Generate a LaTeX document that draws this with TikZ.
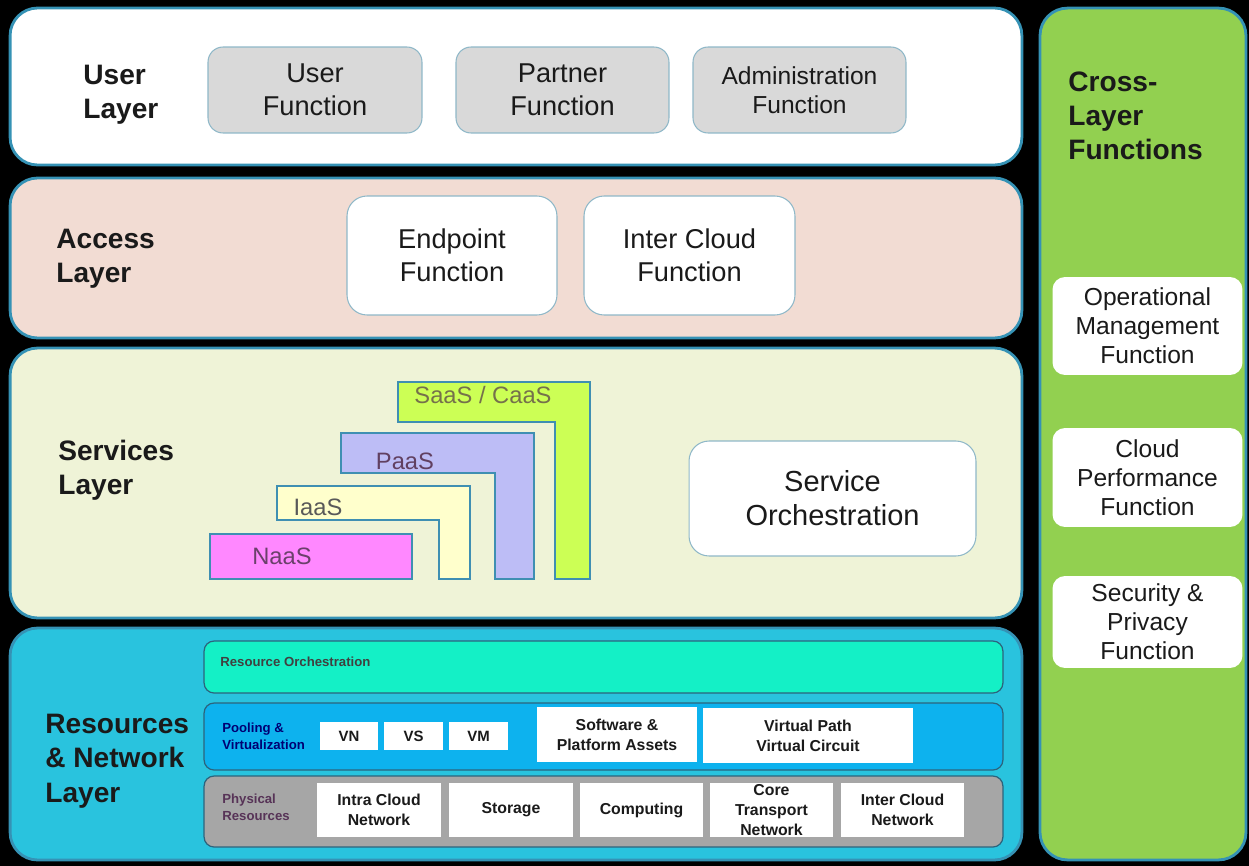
\documentclass[tikz,border=0pt]{standalone}
\usepackage{fontspec}
\setmainfont{Liberation Sans}
\usepackage{tikz}
\usetikzlibrary{calc}

\definecolor{ink}{HTML}{1A1A1A}
\definecolor{edge}{HTML}{3592B5}
\definecolor{fnedge}{HTML}{8FB8C8}
\definecolor{accessfill}{HTML}{F2DCD3}
\definecolor{servicefill}{HTML}{EFF3D7}
\definecolor{resfill}{HTML}{29C3DE}
\definecolor{crossfill}{HTML}{92D050}
\definecolor{fngrey}{HTML}{D9D9D9}
\definecolor{orchfill}{HTML}{14F0C6}
\definecolor{poolfill}{HTML}{0DB2EE}
\definecolor{physfill}{HTML}{A6A6A6}
\definecolor{saasfill}{HTML}{CCFF55}
\definecolor{paasfill}{HTML}{BDBDF6}
\definecolor{iaasfill}{HTML}{FFFFCC}
\definecolor{naasfill}{HTML}{FF88FF}
\definecolor{svcedge}{HTML}{3F8FB2}

\begin{document}
\begin{tikzpicture}[x=0.02cm, y=-0.02cm,
    layer/.style={draw=edge, line width=1.6pt, rounded corners=0.55cm, inner sep=0pt},
    lbl/.style={font=\fontsize{16}{19.5}\selectfont\bfseries, text=ink, align=left, anchor=west, inner sep=0pt},
    fnbox/.style={draw=fnedge, line width=0.6pt, rounded corners=0.3cm, align=center, text=ink, inner sep=0pt},
    xfn/.style={fill=white, rounded corners=0.25cm, align=center, text=ink, inner sep=0pt, minimum width=3.8cm,
        font=\fontsize{14}{16.5}\selectfont},
    bar/.style={draw=svcedge!70!black, line width=0.7pt, rounded corners=0.2cm, inner sep=0pt, minimum width=15.98cm},
    res/.style={fill=white, align=center, text=ink, inner sep=0pt, font=\fontsize{9}{11.3}\selectfont\bfseries},
    tiny/.style={font=\fontsize{7.5}{9.5}\selectfont\bfseries, align=left, anchor=west, inner sep=0pt},
    svc/.style={draw=svcedge, line width=1pt},
    svclbl/.style={font=\fontsize{13.5}{16}\selectfont, inner sep=0pt}]

% Background
\fill[black] (0,0) rectangle (1249,866);
\useasboundingbox (0,0) rectangle (1249,866);

% Layers
\node[layer, fill=white, minimum width=20.24cm, minimum height=3.14cm] (user) at (516,86.5) {};
\node[layer, fill=accessfill, minimum width=20.24cm, minimum height=3.2cm] (access) at (516,258) {};
\node[layer, fill=servicefill, minimum width=20.24cm, minimum height=5.4cm] (services) at (516,483) {};
\node[layer, fill=resfill, minimum width=20.24cm, minimum height=4.64cm] (resources) at (516,744) {};
\node[layer, fill=crossfill, minimum width=4.12cm, minimum height=17.04cm] (cross) at (1143,434) {};

% User layer
\node[lbl] (userlbl) at (83,95) {User\\Layer};
\node[fnbox, fill=fngrey, minimum width=4.28cm, minimum height=1.72cm, font=\fontsize{15.5}{19}\selectfont] (userfn) at (315,90) {User\\Function};
\node[fnbox, fill=fngrey, minimum width=4.26cm, minimum height=1.72cm, font=\fontsize{15.5}{19}\selectfont] (partnerfn) at (562.5,90) {Partner\\Function};
\node[fnbox, fill=fngrey, minimum width=4.26cm, minimum height=1.72cm, font=\fontsize{14}{16.5}\selectfont] (adminfn) at (799.5,90) {Administration\\Function};

% Access layer
\node[lbl] (accesslbl) at (56,259) {Access\\Layer};
\node[fnbox, fill=white, rounded corners=0.4cm, minimum width=4.2cm, minimum height=2.38cm, font=\fontsize{15.5}{19}\selectfont] (endpointfn) at (452,255.5) {Endpoint\\Function};
\node[fnbox, fill=white, rounded corners=0.4cm, minimum width=4.22cm, minimum height=2.38cm, font=\fontsize{15.5}{19}\selectfont] (intercloudfn) at (689.5,255.5) {Inter Cloud\\Function};

% Services layer
\node[lbl] (serviceslbl) at (58,470) {Services\\Layer};
\draw[svc, fill=saasfill] (398,382) -- (590,382) -- (590,579) -- (555,579) -- (555,422) -- (398,422) -- cycle;
\draw[svc, fill=paasfill] (341,433) -- (534,433) -- (534,579) -- (495,579) -- (495,473) -- (341,473) -- cycle;
\draw[svc, fill=iaasfill] (277,486) -- (470,486) -- (470,579) -- (439,579) -- (439,520) -- (277,520) -- cycle;
\node[svc, fill=naasfill, minimum width=4.04cm, minimum height=0.9cm, inner sep=0pt] (naas) at (311,556.5) {};
\node[svclbl, text=olive!45!black!80] (saas) at (483,395) {SaaS / CaaS};
\node[svclbl, text=violet!35!black!75] (paas) at (405,461) {PaaS};
\node[svclbl, text=black!65] (iaas) at (318,507) {IaaS};
\node[svclbl, text=violet!45!black!75] (naaslbl) at (282,556) {NaaS};
\node[fnbox, fill=white, rounded corners=0.4cm, minimum width=5.74cm, minimum height=2.3cm, font=\fontsize{16.5}{19.5}\selectfont] (servorch) at (832.5,498.5) {Service\\Orchestration};

% Resources & network layer
\node[lbl] (reslbl) at (45,761) {Resources\\\& Network\\Layer};
\node[bar, fill=orchfill, minimum height=1.04cm] (resorch) at (603.5,667) {};
\node[tiny, text=black!75] (resorchlbl) at (220,662) {Resource Orchestration};
\node[bar, fill=poolfill, minimum height=1.34cm] (pool) at (603.5,736.5) {};
\node[tiny, text=blue!45!black] (poollbl) at (222,736) {Pooling \&\\Virtualization};
\node[bar, fill=physfill, minimum height=1.42cm] (phys) at (603.5,811.5) {};
\node[tiny, text=violet!35!black!80] (physlbl) at (222,807) {Physical\\Resources};

\node[res, minimum width=1.16cm, minimum height=0.56cm, font=\fontsize{8.5}{10}\selectfont\bfseries] (vn) at (349,736) {VN};
\node[res, minimum width=1.18cm, minimum height=0.56cm, font=\fontsize{8.5}{10}\selectfont\bfseries] (vs) at (413.5,736) {VS};
\node[res, minimum width=1.18cm, minimum height=0.56cm, font=\fontsize{8.5}{10}\selectfont\bfseries] (vm) at (478.5,736) {VM};
\node[res, minimum width=3.2cm, minimum height=1.1cm] (swassets) at (617,734.5) {Software \&\\Platform Assets};
\node[res, minimum width=4.2cm, minimum height=1.1cm] (vpath) at (808,735.5) {Virtual Path\\Virtual Circuit};

\node[res, minimum width=2.48cm, minimum height=1.08cm] (intracloud) at (379,810) {Intra Cloud\\Network};
\node[res, minimum width=2.48cm, minimum height=1.08cm] (storage) at (511,810) {Storage};
\node[res, minimum width=2.46cm, minimum height=1.08cm] (computing) at (641.5,810) {Computing};
\node[res, minimum width=2.46cm, minimum height=1.08cm] (coretrans) at (771.5,810) {Core\\Transport\\Network};
\node[res, minimum width=2.46cm, minimum height=1.08cm] (interclnet) at (902.5,810) {Inter Cloud\\Network};

% Cross-layer functions
\node[lbl] (crosslbl) at (1068,116) {Cross-\\Layer\\Functions};
\node[xfn, minimum height=1.96cm] (opmgmt) at (1147.5,326) {Operational\\Management\\Function};
\node[xfn, minimum height=1.98cm] (cloudperf) at (1147.5,477.5) {Cloud\\Performance\\Function};
\node[xfn, minimum height=1.84cm] (secpriv) at (1147.5,622) {Security \&\\Privacy\\Function};
\end{tikzpicture}
\end{document}
